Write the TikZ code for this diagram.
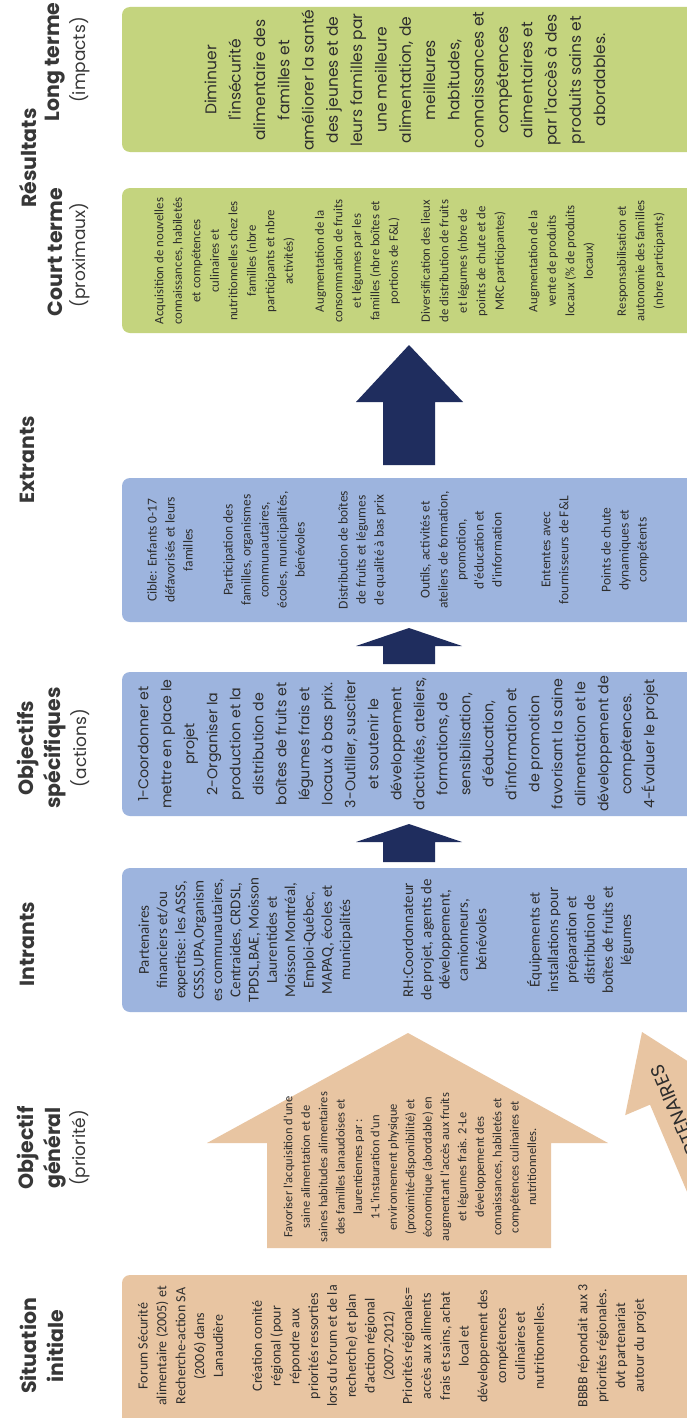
\documentclass[tikz,border=0pt]{standalone}
\usepackage{fontspec}
\setmainfont{Carlito}
\newfontfamily\gothic{Poppins}
\newfontfamily\calib{Carlito}
\definecolor{bluebox}{RGB}{157,180,222}
\definecolor{greenbox}{RGB}{196,212,126}
\definecolor{peach}{RGB}{232,197,162}
\definecolor{navy}{RGB}{31,45,94}
\definecolor{txtc}{RGB}{45,45,45}
\definecolor{headc}{RGB}{55,55,55}
\begin{document}
\begin{tikzpicture}[x=1pt,y=-1pt,
  hd/.style={rotate=90,inner sep=0pt,text=headc,font={\gothic\bfseries\fontsize{20.5}{24}\selectfont}},
  sub/.style={rotate=90,inner sep=0pt,text=headc,font={\gothic\fontsize{17}{20}\selectfont}},
  gtext/.style={rotate=90,inner sep=0pt,align=center,text=txtc},
  ctext/.style={rotate=90,inner sep=0pt,align=center,text=txtc},
  boxfill/.style={rounded corners=8pt}]
\useasboundingbox (0,0) rectangle (687,1418);
\clip (0,0) rectangle (687,1418);
\fill[white] (0,0) rectangle (687,1418);

% boxes
\fill[greenbox,boxfill] (122,7) rectangle (720,152);
\fill[greenbox,boxfill] (122,188) rectangle (720,333);
\fill[bluebox,boxfill] (122,478) rectangle (720,622);
\fill[bluebox,boxfill] (122,672) rectangle (720,816);
\fill[bluebox,boxfill] (122,868) rectangle (720,1012);
\fill[peach,boxfill] (122,1275) rectangle (720,1440);

% objectif general arrow
\fill[peach] (408,1033) -- (608,1143) -- (551,1143) -- (551,1248) -- (267,1248) -- (267,1143) -- (207,1143) -- cycle;

% partenaires arrow
\begin{scope}[shift={(642,1032)},rotate=23]
\fill[peach] (0,0) -- (48,70) -- (21,70) -- (21,500) -- (-21,500) -- (-21,70) -- (-48,70) -- cycle;
\node[transform shape,rotate=90,inner sep=0pt,text=txtc,font={\gothic\fontsize{19}{22}\selectfont}] (part) at (0,96) {PARTENAIRES};
\end{scope}

% navy arrows
\fill[navy] (409,345) -- (463,402) -- (435,402) -- (435,465) -- (383,465) -- (383,402) -- (356,402) -- cycle;
\fill[navy] (409,628) -- (462,646) -- (435,646) -- (435,664) -- (383,664) -- (383,646) -- (356,646) -- cycle;
\fill[navy] (409,824) -- (462,842) -- (435,842) -- (435,862) -- (383,862) -- (383,842) -- (356,842) -- cycle;

% headings
\node[hd] (res) at (28,158) {Résultats};
\node[hd] (lth) at (55,62) {Long terme};
\node[sub] (lts) at (80,60) {(impacts)};
\node[hd] (cth) at (55,252) {Court terme};
\node[sub] (cts) at (80,255) {(proximaux)};
\node[hd] (exh) at (27,460) {Extrants};
\node[hd] (osh1) at (28,748) {Objectifs};
\node[hd] (osh2) at (55,748) {spécifiques};
\node[sub] (oss) at (80,748) {(actions)};
\node[hd] (inh) at (27,944) {Intrants};
\node[hd] (ogh1) at (28,1148) {Objectif};
\node[hd] (ogh2) at (55,1148) {général};
\node[sub] (ogs) at (80,1148) {(priorité)};
\node[hd] (sih1) at (28,1346) {Situation};
\node[hd] (sih2) at (55,1346) {initiale};

% long terme
\node[gtext,font={\gothic\fontsize{15.5}{24.3}\selectfont}] (lt) at (405,80) {Diminuer\\l'insécurité\\alimentaire des\\familles et\\améliorer la santé\\des jeunes et de\\leurs familles par\\une meilleure\\alimentation, de\\meilleures\\habitudes,\\connaissances et\\compétences\\alimentaires et\\par l'accès à des\\produits sains et\\abordables.};

% court terme
\begin{scope}[every node/.append style={ctext,font={\calib\fontsize{12.8}{18.5}\selectfont}}]
\node (ct1) at (224.5,261) {Acquisition de nouvelles\\connaissances, habiletés\\et compétences\\culinaires et\\nutritionnelles chez les\\familles (nbre\\participants et nbre\\activités)};
\node (ct2) at (357.5,261) {Augmentation de la\\consommation de fruits\\et légumes par les\\familles (nbre boîtes et\\portions de F\&L)};
\node (ct3) at (463.5,261) {Diversification des lieux\\de distribution de fruits\\et légumes (nbre de\\points de chute et de\\MRC participantes)};
\node (ct4) at (561.5,261) {Augmentation de la\\vente de produits\\locaux (\% de produits\\locaux)};
\node (ct5) at (641,261) {Responsabilisation et\\autonomie des familles\\(nbre participants)};
\end{scope}

% extrants
\begin{scope}[every node/.append style={ctext,font={\calib\fontsize{13.5}{18}\selectfont}}]
\node (ex1) at (170,550) {Cible: Enfants 0-17\\défavorisés et leurs\\familles};
\node (ex2) at (264,550) {Participation des\\familles, organismes\\communautaires,\\écoles, municipalités,\\bénévoles};
\node (ex3) at (362,550) {Distribution de boîtes\\de fruits et légumes\\de qualité à bas prix};
\node (ex4) at (461,550) {Outils, activités et\\ateliers de formation,\\promotion,\\d'éducation et\\d'information};
\node (ex5) at (555,550) {Ententes avec\\fournisseurs de F\&L};
\node (ex6) at (625,550) {Points de chute\\dynamiques et\\compétents};
\end{scope}

% objectifs specifiques
\node[gtext,font={\gothic\fontsize{14.2}{23}\selectfont}] (os) at (398,744) {1-Coordonner et\\mettre en place le\\projet\\2-Organiser la\\production et la\\distribution de\\boîtes de fruits et\\légumes frais et\\locaux à bas prix.\\3-Outiller, susciter\\et soutenir le\\développement\\d'activités, ateliers,\\formations, de\\sensibilisation,\\d'éducation,\\d'information et\\de promotion\\favorisant la saine\\alimentation et le\\développement de\\compétences.\\4-Évaluer le projet};

% intrants
\begin{scope}[every node/.append style={ctext,font={\calib\fontsize{15}{18.3}\selectfont}}]
\node (in1) at (245.5,940) {Partenaires\\financiers et/ou\\expertise: les ASSS,\\CSSS,UPA,Organism\\es communautaires,\\Centraides, CRDSL,\\TPDSL,BAE, Moisson\\Laurentides et\\Moisson Montréal,\\Emploi-Québec,\\MAPAQ, écoles et\\municipalités};
\node (in2) at (444.5,940) {RH:Coordonnateur\\de projet, agents de\\développement,\\camionneurs,\\bénévoles};
\node (in3) at (580.5,940) {Équipements et\\installations pour\\préparation et\\distribution de\\boîtes de fruits et\\légumes};
\end{scope}

% objectif general
\node[ctext,font={\calib\fontsize{12.5}{17.4}\selectfont}] (og) at (410,1167) {Favoriser l'acquisition d'une\\saine alimentation et de\\saines habitudes alimentaires\\des familles lanaudoises et\\laurentiennes par :\\1-L'instauration d'un\\environnement physique\\(proximité-disponibilité) et\\économique (abordable) en\\augmentant l'accès aux fruits\\et légumes frais. 2-Le\\développement des\\connaissances, habiletés et\\compétences culinaires et\\nutritionnelles.};

% situation initiale
\begin{scope}[every node/.append style={ctext,font={\calib\fontsize{14}{18.8}\selectfont}}]
\node (si1) at (180.5,1346) {Forum Sécurité\\alimentaire (2005) et\\Recherche-action SA\\(2006) dans\\Lanaudière};
\node (si2) at (398,1346) {Création comité\\régional (pour\\répondre aux\\priorités ressorties\\lors du forum et de la\\recherche) et plan\\d'action régional\\(2007-2012)\\Priorités régionales=\\accès aux aliments\\frais et sains, achat\\local et\\développement des\\compétences\\culinaires et\\nutritionnelles.};
\node (si3) at (612,1346) {BBBB répondait aux 3\\priorités régionales.\\dvt partenariat\\autour du projet};
\end{scope}
\end{tikzpicture}
\end{document}
